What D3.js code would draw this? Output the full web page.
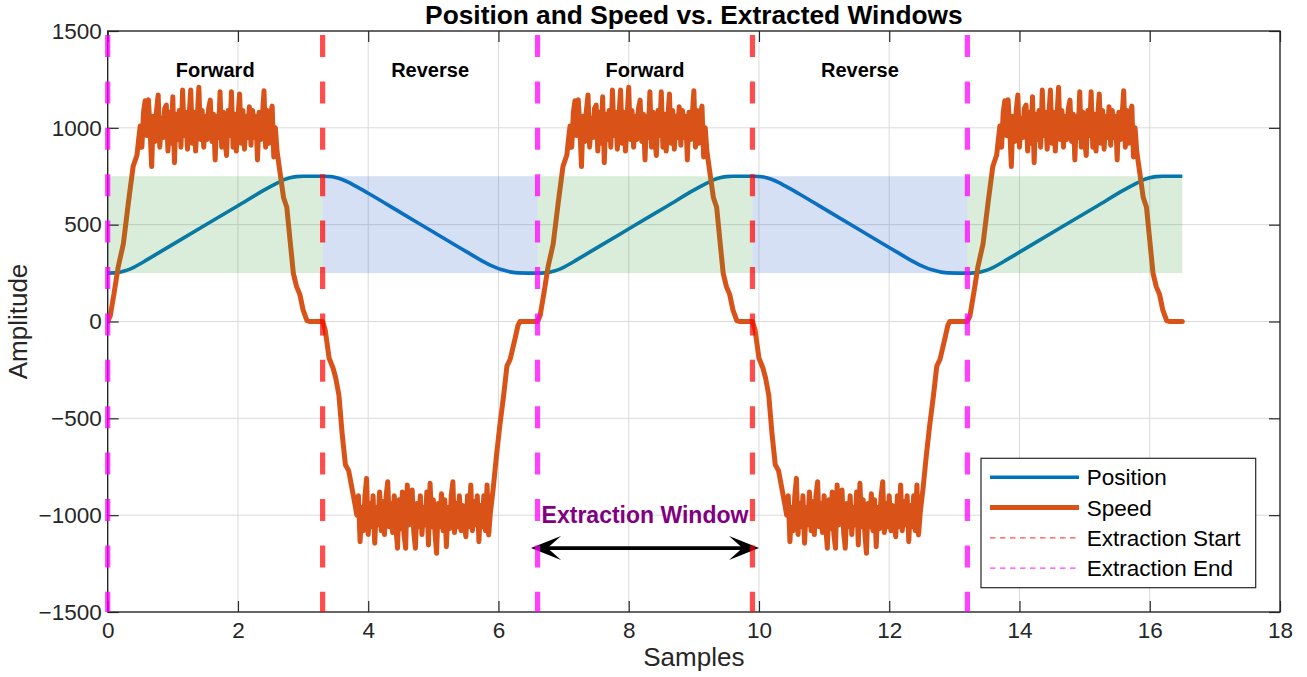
<!DOCTYPE html>
<html>
<head>
<meta charset="utf-8">
<script src="https://cdn.jsdelivr.net/npm/d3@7"></script>
<style>
  body { margin: 0; background: #fff; }
  svg { display: block; font-family: "Liberation Sans", Arial, Helvetica, sans-serif; }
</style>
</head>
<body>
<svg id="chart" width="1307" height="677"></svg>
<script>
// ---- data -------------------------------------------------------------
const xTicks = [0, 2, 4, 6, 8, 10, 12, 14, 16, 18];
const yTicks = [-1500, -1000, -500, 0, 500, 1000, 1500];

const cycleLength = 6.6;
const cycleStarts = [0, 6.6, 13.2];
const dataEnd = 16.5;

const extractionStarts = [3.3, 9.9];
const extractionEnds = [0, 6.6, 13.2];
const forwardWindows = [[0, 3.3], [6.6, 9.9], [13.2, 16.5]];
const reverseWindows = [[3.3, 6.6], [9.9, 13.2]];
const bandRange = [250, 750];

const directionLabels = [
  { text: "Forward", from: 0, to: 3.3 },
  { text: "Reverse", from: 3.3, to: 6.6 },
  { text: "Forward", from: 6.6, to: 9.9 },
  { text: "Reverse", from: 9.9, to: 13.2 }
];
const directionLabelLevel = 1300;

const windowNote = { text: "Extraction Window", x: 8.25, y: -1000, arrowFrom: 6.5, arrowTo: 10.0, arrowY: -1170 };

// position over one cycle: [sample, amplitude]
const positionCycle = [
  [0, 250], [0.1, 251], [0.2, 256], [0.3, 265], [0.4, 280], [0.5, 298], [0.6, 318],
  [0.8, 358], [1.0, 398], [1.5, 498], [2.0, 598], [2.4, 678], [2.6, 714], [2.7, 731],
  [2.8, 742], [2.9, 748], [3.0, 750], [3.3, 750], [3.4, 749], [3.5, 744], [3.6, 733],
  [3.7, 718], [3.8, 700], [4.0, 662], [4.5, 562], [5.0, 462], [5.5, 362], [5.8, 304],
  [5.9, 287], [6.0, 273], [6.1, 263], [6.2, 255], [6.3, 251], [6.6, 250]
];

// speed over one cycle, in pieces
const speedForwardRise = [
  [0, 0], [0.04, 30], [0.1, 150], [0.16, 280], [0.24, 400], [0.32, 620], [0.39, 800], [0.45, 860]
];
const forwardPlateauStart = 0.475;
const plateauStep = 0.025;
const speedForwardPlateau = [
  940, 1010, 900, 1080, 1140, 960, 1145, 1000, 800, 1060, 930, 1090, 1170, 900, 1050, 950,
  1100, 1118, 880, 1080, 920, 1160, 820, 1070, 940, 1090, 900, 1195, 960, 1080, 890, 1060,
  1195, 920, 1080, 880, 1050, 1209, 940, 1090, 900, 1060, 940, 1100, 1143, 930, 1070, 834,
  1060, 950, 1186, 900, 1080, 940, 857, 1090, 960, 1186, 900, 1070, 880, 1050, 1175, 920,
  1090, 890, 1060, 950, 1109, 910, 1090, 950, 1060, 834, 1080, 940, 1060, 1191, 900, 1090,
  920, 1070, 1112, 850, 1000
];
const speedForwardFall = [
  [2.6, 880], [2.65, 760], [2.7, 640], [2.75, 590], [2.8, 420], [2.85, 250], [2.9, 180],
  [2.95, 140], [3.0, 60], [3.06, 5], [3.1, 0], [3.3, 0]
];
const speedReverseFall = [
  [3.34, -44], [3.4, -190], [3.46, -240], [3.5, -290], [3.55, -380], [3.6, -580],
  [3.65, -740], [3.7, -770], [3.75, -860], [3.8, -950]
];
const reversePlateauStart = 3.825;
const speedReversePlateau = [
  -1000, -900, -1137, -960, -1080, -900, -810, -1100, -940, -1060, -900, -1145, -960, -1050,
  -880, -1080, -930, -1100, -900, -827, -1060, -940, -1090, -900, -1060, -1171, -920, -1070,
  -880, -1100, -1171, -844, -1050, -920, -870, -1090, -1171, -940, -1060, -900, -1100, -960,
  -1050, -880, -1154, -835, -1060, -920, -1090, -1197, -940, -1060, -890, -1080, -920, -1163,
  -960, -1070, -900, -827, -1090, -940, -1060, -900, -1080, -950, -1050, -1111, -900, -1060,
  -844, -1080, -930, -1050, -900, -1137, -950, -1060, -900, -1080, -844, -1102, -990
];
const speedReverseRise = [
  [5.92, -860], [5.97, -690], [6.02, -540], [6.08, -380], [6.13, -230], [6.18, -195],
  [6.25, -95], [6.3, -20], [6.33, 0]
];

// ---- assemble series --------------------------------------------------
const speedCycle = [].concat(
  speedForwardRise,
  speedForwardPlateau.map((v, i) => [forwardPlateauStart + i * plateauStep, v]),
  speedForwardFall,
  speedReverseFall,
  speedReversePlateau.map((v, i) => [reversePlateauStart + i * plateauStep, v]),
  speedReverseRise
);

function repeatCycle(cycle) {
  const out = [];
  cycleStarts.forEach(c => {
    cycle.forEach(([t, v]) => {
      const s = +(c + t).toFixed(4);
      if (s > dataEnd + 1e-9) return;
      if (out.length && s <= out[out.length - 1][0]) return;
      out.push([s, v]);
    });
  });
  if (out[out.length - 1][0] < dataEnd) out.push([dataEnd, out[out.length - 1][1]]);
  return out;
}
const positionSeries = repeatCycle(positionCycle);
const speedSeries = repeatCycle(speedCycle);

// ---- layout -----------------------------------------------------------
const svg = d3.select("#chart");
const plotL = 107.7, plotR = 1280, plotT = 31, plotB = 612;
const x = d3.scaleLinear().domain([0, 18]).range([plotL, plotR]);
const y = d3.scaleLinear().domain([-1500, 1500]).range([plotB, plotT]);
const axisColor = "#262626";
const tickFont = "22.5px";

svg.append("defs").append("clipPath").attr("id", "plot-clip")
  .append("rect").attr("x", plotL).attr("y", plotT).attr("width", plotR - plotL).attr("height", plotB - plotT);

// grid
const grid = svg.append("g").attr("stroke", "#dadada").attr("stroke-width", 1);
grid.selectAll(".gx").data(xTicks.slice(1, -1)).join("line")
  .attr("x1", d => x(d)).attr("x2", d => x(d)).attr("y1", plotT).attr("y2", plotB);
grid.selectAll(".gy").data(yTicks.slice(1, -1)).join("line")
  .attr("x1", plotL).attr("x2", plotR).attr("y1", d => y(d)).attr("y2", d => y(d));

// traces
const plot = svg.append("g").attr("clip-path", "url(#plot-clip)");

plot.append("path").datum(positionSeries)
  .attr("fill", "none").attr("stroke", "#0072BD").attr("stroke-width", 3.6)
  .attr("stroke-linejoin", "round")
  .attr("d", d3.line().x(d => x(d[0])).y(d => y(d[1])).curve(d3.curveMonotoneX));

plot.append("path").datum(speedSeries)
  .attr("fill", "none").attr("stroke", "#D95319").attr("stroke-width", 5)
  .attr("stroke-linejoin", "round").attr("stroke-linecap", "round")
  .attr("d", d3.line().x(d => x(d[0])).y(d => y(d[1])));

// window shading (translucent, over the traces)
plot.append("g").selectAll("rect").data(forwardWindows).join("rect")
  .attr("x", d => x(d[0])).attr("width", d => x(d[1]) - x(d[0]))
  .attr("y", y(bandRange[1])).attr("height", y(bandRange[0]) - y(bandRange[1]))
  .attr("fill", "rgb(51,153,51)").attr("fill-opacity", 0.18);
plot.append("g").selectAll("rect").data(reverseWindows).join("rect")
  .attr("x", d => x(d[0])).attr("width", d => x(d[1]) - x(d[0]))
  .attr("y", y(bandRange[1])).attr("height", y(bandRange[0]) - y(bandRange[1]))
  .attr("fill", "rgb(51,102,204)").attr("fill-opacity", 0.2);

// direction labels
svg.append("g").selectAll("text").data(directionLabels).join("text")
  .attr("x", d => x((d.from + d.to) / 2)).attr("y", y(directionLabelLevel) + 7)
  .attr("text-anchor", "middle").attr("font-weight", "bold").attr("font-size", "20px")
  .attr("fill", "#000").text(d => d.text);

// extraction window annotation
svg.append("text")
  .attr("x", x(windowNote.x)).attr("y", y(windowNote.y) + 7.5)
  .attr("text-anchor", "middle").attr("font-weight", "bold").attr("font-size", "23px")
  .attr("fill", "#800080").text(windowNote.text);

const ay = y(windowNote.arrowY);
const ax0 = x(windowNote.arrowFrom), ax1 = x(windowNote.arrowTo);
const headL = 30, headW = 12;
svg.append("line").attr("x1", ax0 + 10).attr("x2", ax1 - 10).attr("y1", ay).attr("y2", ay)
  .attr("stroke", "#000").attr("stroke-width", 3.6);
svg.append("path").attr("fill", "#000")
  .attr("d", `M${ax0},${ay} L${ax0 + headL},${ay - headW} L${ax0 + headL * 0.55},${ay} L${ax0 + headL},${ay + headW} Z`);
svg.append("path").attr("fill", "#000")
  .attr("d", `M${ax1},${ay} L${ax1 - headL},${ay - headW} L${ax1 - headL * 0.55},${ay} L${ax1 - headL},${ay + headW} Z`);

// axes
const fmt = d3.format("d");
const axB = svg.append("g").attr("transform", `translate(0,${plotB})`)
  .call(d3.axisBottom(x).tickValues(xTicks).tickFormat(fmt).tickSizeInner(-11).tickSizeOuter(0).tickPadding(10));
const axL = svg.append("g").attr("transform", `translate(${plotL},0)`)
  .call(d3.axisLeft(y).tickValues(yTicks).tickFormat(fmt).tickSizeInner(-11).tickSizeOuter(0).tickPadding(6));
const axT = svg.append("g").attr("transform", `translate(0,${plotT})`)
  .call(d3.axisTop(x).tickValues(xTicks).tickFormat("").tickSizeInner(-11).tickSizeOuter(0));
const axR = svg.append("g").attr("transform", `translate(${plotR},0)`)
  .call(d3.axisRight(y).tickValues(yTicks).tickFormat("").tickSizeInner(-11).tickSizeOuter(0));
[axB, axL, axT, axR].forEach(g => {
  g.select(".domain").remove();
  g.selectAll(".tick line").attr("stroke", axisColor).attr("stroke-width", 1.2);
  g.selectAll(".tick text").attr("fill", axisColor).attr("font-size", tickFont)
    .attr("font-family", "\"Liberation Sans\", Arial, Helvetica, sans-serif");
});
svg.append("rect").attr("x", plotL).attr("y", plotT).attr("width", plotR - plotL).attr("height", plotB - plotT)
  .attr("fill", "none").attr("stroke", axisColor).attr("stroke-width", 1.4);

// extraction markers, above the axes box
function markers(data, color, opacity) {
  svg.append("g").selectAll("line").data(data).join("line")
    .attr("x1", d => x(d)).attr("x2", d => x(d))
    .attr("y1", y(1500)).attr("y2", y(-1500))
    .attr("stroke", color).attr("stroke-opacity", opacity).attr("stroke-width", 5.2)
    .attr("stroke-dasharray", "22,24.4").attr("stroke-dashoffset", 42.4);
}
markers(extractionStarts, "#ff0000", 0.7);
markers(extractionEnds, "#ff00ff", 0.75);

// axis titles
svg.append("text").attr("x", (plotL + plotR) / 2).attr("y", 666)
  .attr("text-anchor", "middle").attr("font-size", "26px").attr("fill", axisColor).text("Samples");
svg.append("text").attr("transform", `translate(27,${(plotT + plotB) / 2}) rotate(-90)`)
  .attr("text-anchor", "middle").attr("font-size", "26px").attr("fill", axisColor).text("Amplitude");

// title
svg.append("text").attr("x", (plotL + plotR) / 2).attr("y", 24)
  .attr("text-anchor", "middle").attr("font-weight", "bold").attr("font-size", "26.3px")
  .attr("fill", "#000").text("Position and Speed vs. Extracted Windows");

// legend
const legendItems = [
  { label: "Position", color: "#0072BD", width: 3.6, dash: null, opacity: 1 },
  { label: "Speed", color: "#D95319", width: 5, dash: null, opacity: 1 },
  { label: "Extraction Start", color: "#ff0000", width: 1.2, dash: "5.5,4.5", opacity: 0.7 },
  { label: "Extraction End", color: "#ff00ff", width: 1.2, dash: "5.5,4.5", opacity: 0.75 }
];
const lg = svg.append("g");
lg.append("rect").attr("x", 981).attr("y", 458.3).attr("width", 274.7).attr("height", 129.4)
  .attr("fill", "#fff").attr("stroke", axisColor).attr("stroke-width", 1.2);
const rows = lg.selectAll("g").data(legendItems).join("g")
  .attr("transform", (d, i) => `translate(0,${477.3 + i * 30.3})`);
rows.append("line").attr("x1", 990).attr("x2", 1079).attr("y1", 0).attr("y2", 0)
  .attr("stroke", d => d.color).attr("stroke-width", d => d.width)
  .attr("stroke-opacity", d => d.opacity)
  .attr("stroke-dasharray", d => d.dash);
rows.append("text").attr("x", 1086.7).attr("y", 0).attr("dy", "0.36em")
  .attr("font-size", "22.5px").attr("fill", "#000").text(d => d.label);
</script>
</body>
</html>
